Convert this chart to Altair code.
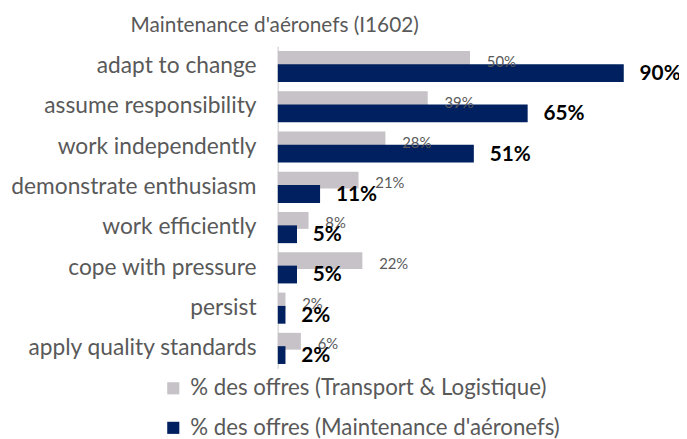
import altair as alt
import pandas as pd

categories = ["adapt to change", "assume responsibility", "work independently",
              "demonstrate enthusiasm", "work efficiently", "cope with pressure",
              "persist", "apply quality standards"]
transport = [50, 39, 28, 21, 8, 22, 2, 6]
maintenance = [90, 65, 51, 11, 5, 5, 2, 2]
series_names = ["% des offres (Transport & Logistique)", "% des offres (Maintenance d'aéronefs)"]
colors = ["#C6C2C7", "#002060"]

df_t = pd.DataFrame({"cat": categories, "val": transport, "series": series_names[0],
                     "lab": [f"{v}%" for v in transport]})
df_m = pd.DataFrame({"cat": categories, "val": maintenance, "series": series_names[1],
                     "lab": [f"{v}%" for v in maintenance]})

FONT = "Lato"
y = alt.Y("cat:N", sort=categories, title=None,
          axis=alt.Axis(labelFontSize=23, labelColor="#595959", labelFont=FONT,
                        ticks=False, domainColor="#D9D9D9", domainWidth=1.5,
                        labelPadding=22, labelLimit=400))
x = alt.X("val:Q", scale=alt.Scale(domain=[0, 100]), axis=None)
color = alt.Color("series:N", scale=alt.Scale(domain=series_names, range=colors),
                  legend=alt.Legend(orient="none", legendX=-117, legendY=335, title=None,
                                    direction="vertical", symbolType="square",
                                    symbolSize=150, symbolStrokeWidth=0,
                                    labelFontSize=22.5, labelColor="#595959", labelFont=FONT,
                                    rowPadding=17, labelOffset=6, labelLimit=500))

bars_t = alt.Chart(df_t).mark_bar(height=17, yOffset=-7).encode(y=y, x=x, color=color)
bars_m = alt.Chart(df_m).mark_bar(height=18, yOffset=7).encode(y=y, x=x, color=color)
text_t = alt.Chart(df_t).mark_text(align="left", baseline="middle", dx=17, dy=-4,
                                   fontSize=15, font=FONT, color="#595959").encode(
    y=y, x=x, text="lab:N")
text_m = alt.Chart(df_m).mark_text(align="left", baseline="middle", dx=16, dy=8,
                                   fontSize=21, fontWeight="bold", font=FONT,
                                   color="#000000").encode(y=y, x=x, text="lab:N")

chart = alt.layer(bars_t, bars_m, text_t, text_m).properties(
    width=389, height=326,
    title=alt.TitleParams("Maintenance d'aéronefs (I1602)", fontSize=21, font=FONT,
                          fontWeight="normal", color="#595959", anchor="start",
                          frame="group", dx=-149, offset=10),
    autosize=alt.AutoSizeParams(type="none"),
    padding={"left": 273, "top": 36, "right": 17, "bottom": 72},
).configure_view(stroke=None)

chart.save("out.html", embed_options={"renderer": "svg", "actions": False})
